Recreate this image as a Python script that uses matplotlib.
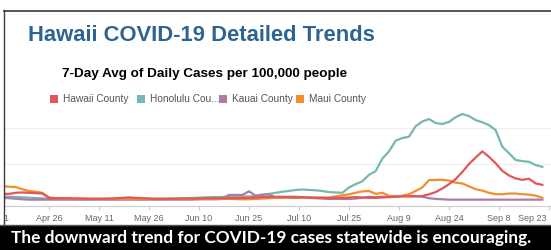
import numpy as np
import pandas as pd
import matplotlib
matplotlib.use("Agg")
import matplotlib.pyplot as plt
import matplotlib.transforms as mtrans
from matplotlib.patches import Rectangle
from matplotlib.lines import Line2D

# ---------------- data ----------------
dates = pd.date_range("2020-04-12", "2020-09-21", freq="2D")

hawaii = [1.7, 1.7, 2.0, 2.1, 2.0, 1.9, 1.8, 0.6, 0.5, 0.5,
          0.45, 0.4, 0.4, 0.35, 0.35, 0.35, 0.4, 0.45, 0.6, 0.7,
          0.6, 0.5, 0.4, 0.35, 0.35, 0.35, 0.35, 0.4, 0.4, 0.4,
          0.45, 0.5, 0.5, 0.5, 0.5, 0.5, 0.55, 0.6, 0.7, 0.8,
          0.8, 0.9, 0.9, 0.8, 0.7, 0.8, 0.7, 0.6, 0.6, 0.5,
          0.6, 0.6, 0.7, 0.8, 0.7, 0.6, 0.6, 0.7, 0.8, 0.9,
          1.0, 1.0, 1.0, 1.1, 1.6, 2.2, 3.2, 4.4, 5.8, 7.8,
          10.0, 11.8, 13.5, 12.0, 10.2, 8.1, 6.8, 6.0, 5.6, 5.9,
          4.6, 4.2]

honolulu = [1.0, 0.9, 0.85, 0.75, 0.65, 0.55, 0.45, 0.35, 0.3, 0.3,
            0.3, 0.3, 0.25, 0.25, 0.3, 0.3, 0.3, 0.3, 0.35, 0.35,
            0.3, 0.3, 0.3, 0.3, 0.3, 0.35, 0.4, 0.45, 0.55, 0.6,
            0.7, 0.75, 0.8, 0.85, 0.9, 0.95, 1.0, 1.0, 1.1, 1.4,
            1.7, 2.0, 2.3, 2.5, 2.8, 2.9, 2.8, 2.7, 2.5, 2.2,
            2.1, 2.0, 3.5, 4.4, 5.2, 7.0, 8.0, 11.5, 13.5, 16.5,
            17.2, 17.6, 20.5, 21.8, 22.5, 21.4, 21.1, 21.7, 23.0, 23.9,
            23.3, 22.2, 21.6, 20.8, 19.4, 14.8, 13.0, 11.1, 10.8, 10.6,
            9.7, 9.2]

kauai = [0.6, 0.5, 0.35, 0.2, 0.1, 0.1, 0.1, 0.1, 0.1, 0.1,
         0.1, 0.1, 0.1, 0.1, 0.1, 0.1, 0.1, 0.1, 0.1, 0.1,
         0.1, 0.1, 0.1, 0.1, 0.1, 0.1, 0.1, 0.1, 0.1, 0.15,
         0.2, 0.2, 0.2, 0.3, 1.4, 1.4, 1.4, 2.4, 1.2, 1.5,
         1.5, 0.7, 0.7, 0.9, 0.9, 0.8, 0.6, 0.5, 0.4, 0.3,
         0.3, 0.3, 0.3, 0.4, 0.6, 0.9, 0.8, 0.9, 1.0, 1.1,
         1.1, 1.1, 1.1, 0.9, 0.5, 0.3, 0.2, 0.1, 0.1, 0.1,
         0.1, 0.1, 0.1, 0.1, 0.1, 0.1, 0.1, 0.1, 0.1, 0.1,
         0.1, 0.1]

maui = [3.8, 3.7, 3.6, 3.0, 2.5, 2.3, 2.0, 0.7, 0.5, 0.45,
        0.4, 0.4, 0.35, 0.35, 0.3, 0.3, 0.3, 0.3, 0.3, 0.3,
        0.3, 0.3, 0.3, 0.3, 0.3, 0.3, 0.3, 0.3, 0.3, 0.3,
        0.3, 0.3, 0.3, 0.3, 0.3, 0.25, 0.2, 0.2, 0.3, 0.4,
        0.5, 0.6, 0.6, 0.6, 0.6, 0.6, 0.7, 0.7, 0.7, 0.7,
        1.0, 1.3, 1.6, 2.0, 2.4, 2.5, 1.7, 2.0, 1.2, 0.9,
        1.2, 1.6, 2.5, 3.5, 5.5, 5.6, 5.6, 5.4, 4.8, 4.6,
        3.8, 3.0, 2.6, 2.0, 1.6, 1.6, 1.8, 1.8, 1.6, 1.5,
        1.2, 0.6]

series_names = ["Hawaii County", "Honolulu Cou...", "Kauai County", "Maui County"]
series_values = [hawaii, honolulu, kauai, maui]
series_colors = ["#e15759", "#76b7b2", "#b07aa1", "#f28e2b"]

tick_dates = pd.date_range("2020-04-11", "2020-09-23", freq="15D")
tick_labels = [d.strftime("%b %-d") for d in tick_dates]

title = "Hawaii COVID-19 Detailed Trends"
subtitle = "7-Day Avg of Daily Cases per 100,000 people"
banner = "The downward trend for COVID-19 cases statewide is encouraging."

# ---------------- layout helpers ----------------
W, H = 551, 250
fig = plt.figure(figsize=(W / 100, H / 100), dpi=100)
fig.patch.set_facecolor("white")

def fx(px):
    return px / W

def fy(py):
    return 1 - py / H

# pixel mapping of the x axis: Apr 26 -> 49 px, 3.333 px/day
ref = pd.Timestamp("2020-04-26")
ppd = 50 / 15.0
ax_left_px, ax_right_px = -40, 551
ax_top_px, ax_bot_px = 105, 206
xl = ref + pd.Timedelta(days=(ax_left_px - 49) / ppd)
xr = ref + pd.Timedelta(days=(ax_right_px - 49) / ppd)
# y mapping: 0 -> 200 px, 3.6 px per unit
y_lo = (200 - ax_bot_px) / 3.6
y_hi = (200 - ax_top_px) / 3.6

ax = fig.add_axes([fx(ax_left_px), fy(ax_bot_px),
                   fx(ax_right_px - ax_left_px), (ax_bot_px - ax_top_px) / H])
ax.set_facecolor("none")

order = [1, 2, 3, 0]
for i in order:
    ax.plot(dates, series_values[i], color=series_colors[i], lw=1.6,
            solid_joinstyle="round", zorder=3 + order.index(i))

ax.set_xlim(xl, xr)
ax.set_ylim(y_lo, y_hi)
ax.set_yticks([10, 20])
ax.yaxis.grid(True, color="#eeeeee", lw=0.8)
ax.set_axisbelow(True)
ax.tick_params(axis="y", length=0, labelleft=False)
for s in ["top", "right", "left"]:
    ax.spines[s].set_visible(False)
ax.spines["bottom"].set_color("#cccccc")
ax.spines["bottom"].set_linewidth(0.8)

ax.set_xticks(tick_dates)
ax.set_xticklabels(tick_labels, fontsize=6.5, color="#666666",
                   family="Liberation Sans")
ax.tick_params(axis="x", length=3, width=0.8, color="#cccccc", pad=3)
# first label is mostly hidden behind the frame; last one sits left of its tick
lab0 = ax.get_xticklabels()[0]
lab0.set_transform(lab0.get_transform() +
                   mtrans.ScaledTranslation(-3 / 100, 0, fig.dpi_scale_trans))
lab = ax.get_xticklabels()[-1]
lab.set_transform(lab.get_transform() +
                  mtrans.ScaledTranslation(-17 / 100, 0, fig.dpi_scale_trans))

# ---------------- overlays: frame, margins ----------------
fig.patches.append(Rectangle((0, 0), fx(3.5), 1, transform=fig.transFigure,
                             facecolor="white", edgecolor="none", zorder=20))
fig.patches.append(Rectangle((0, fy(10)), 1, 10 / H, transform=fig.transFigure,
                             facecolor="white", edgecolor="none", zorder=20))
fig.lines.append(Line2D([fx(3.5), fx(3.5)], [fy(10), fy(224)], transform=fig.transFigure,
                        color="#3a3a3a", lw=1.0, zorder=21))
fig.lines.append(Line2D([fx(3.5), 1], [fy(10.5), fy(10.5)], transform=fig.transFigure,
                        color="#3a3a3a", lw=1.2, zorder=21))
fig.patches.append(Rectangle((0, 0), 1, fy(224.5), transform=fig.transFigure,
                             facecolor="black", edgecolor="none", zorder=22))
fig.lines.append(Line2D([0, 1], [fy(224.5), fy(224.5)], transform=fig.transFigure,
                        color="#555555", lw=1.0, zorder=23))

# ---------------- texts ----------------
fig.text(fx(28), fy(41), title, fontsize=15.8, fontweight="bold", color="#2d6491",
         family="Liberation Sans", va="baseline", ha="left", zorder=25)
fig.text(fx(62), fy(77), subtitle, fontsize=9.7, fontweight="bold", color="black",
         family="Liberation Sans", va="baseline", ha="left", zorder=25)

leg_sq_x = [50, 137, 219, 296]
for name, col, sx in zip(series_names, series_colors, leg_sq_x):
    fig.patches.append(Rectangle((fx(sx), fy(103)), fx(7.5), 7.5 / H,
                                 transform=fig.transFigure, facecolor=col,
                                 edgecolor="none", zorder=25))
    fig.text(fx(sx + 13), fy(99.3), name, fontsize=7.3, color="#555555",
             family="Liberation Sans", va="center", ha="left", zorder=25)

fig.text(fx(11), fy(242.5), banner, fontsize=12.4, fontweight="bold", color="white",
         family="Lato", va="baseline", ha="left", zorder=25)

fig.savefig("out.png", dpi=100, facecolor="white")
